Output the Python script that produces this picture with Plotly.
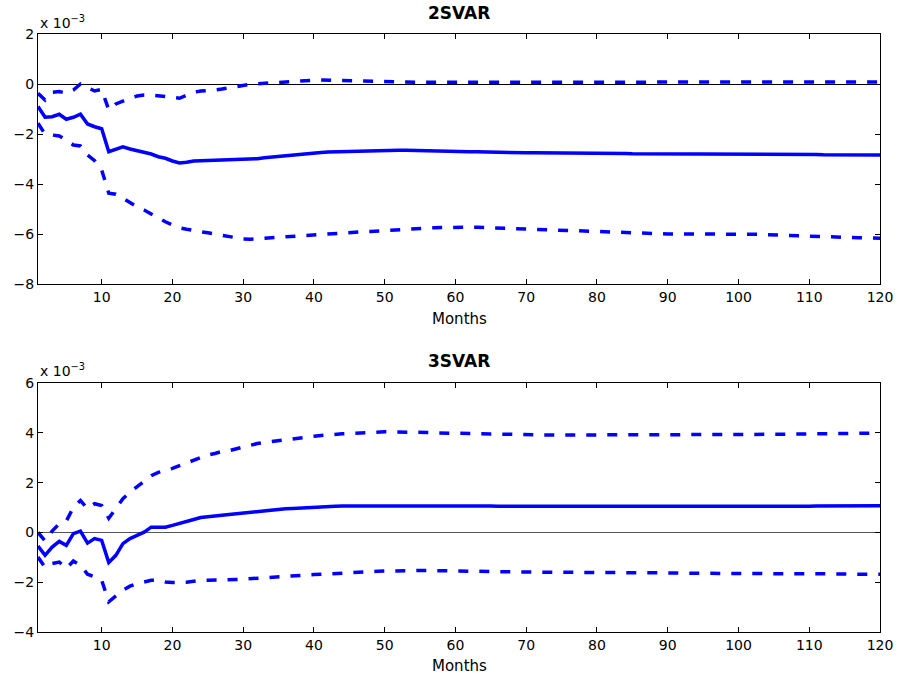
import plotly.graph_objects as go

months = list(range(1, 121))

# ---- 2SVAR (values in units of 1e-3) ----
svar2_mid = [
    -0.90, -1.33, -1.31, -1.21, -1.41, -1.33, -1.21, -1.60, -1.71, -1.79,
    -2.71, -2.60, -2.51, -2.60, -2.67, -2.71, -2.80, -2.91, -2.97, -3.08,
    -3.16, -3.13, -3.08, -3.07, -3.06, -3.05, -3.05, -3.05, -3.05, -3.04,
    -3.02, -2.99, -2.95, -2.92, -2.89, -2.86, -2.83, -2.81, -2.78, -2.76,
    -2.74, -2.72, -2.71, -2.70, -2.69, -2.68, -2.67, -2.67, -2.66, -2.66,
    -2.65, -2.65, -2.65, -2.66, -2.66, -2.67, -2.67, -2.68, -2.69, -2.70,
    -2.70, -2.71, -2.71, -2.72, -2.72, -2.73, -2.73, -2.74, -2.74, -2.75,
    -2.75, -2.75, -2.76, -2.76, -2.76, -2.77, -2.77, -2.77, -2.77, -2.78,
    -2.78, -2.78, -2.78, -2.78, -2.79, -2.79, -2.79, -2.79, -2.79, -2.79,
    -2.80, -2.80, -2.80, -2.80, -2.80, -2.80, -2.80, -2.80, -2.80, -2.80,
    -2.80, -2.81, -2.81, -2.81, -2.81, -2.81, -2.82, -2.82, -2.82, -2.82,
    -2.82, -2.83, -2.83, -2.83, -2.83, -2.83, -2.84, -2.84, -2.84, -2.84,
]
svar2_upper = [
    -0.37, -0.64, -0.33, -0.30, -0.37, -0.24, 0.00, -0.13, -0.28, -0.21,
    -1.04, -0.80, -0.67, -0.57, -0.48, -0.44, -0.44, -0.47, -0.48, -0.51,
    -0.57, -0.45, -0.33, -0.28, -0.27, -0.24, -0.20, -0.15, -0.10, -0.05,
    -0.01, 0.01, 0.03, 0.06, 0.08, 0.10, 0.12, 0.13, 0.14, 0.15,
    0.16, 0.16, 0.16, 0.15, 0.14, 0.13, 0.12, 0.11, 0.10, 0.09,
    0.09, 0.08, 0.08, 0.08, 0.07, 0.07, 0.07, 0.07, 0.08, 0.08,
    0.08, 0.08, 0.09, 0.09, 0.10, 0.10, 0.10, 0.10, 0.10, 0.10,
    0.10, 0.10, 0.10, 0.10, 0.10, 0.10, 0.09, 0.09, 0.09, 0.09,
    0.09, 0.09, 0.09, 0.09, 0.09, 0.08, 0.08, 0.08, 0.08, 0.08,
    0.08, 0.08, 0.08, 0.08, 0.08, 0.08, 0.08, 0.08, 0.08, 0.08,
    0.08, 0.08, 0.08, 0.08, 0.08, 0.08, 0.08, 0.08, 0.08, 0.08,
    0.08, 0.08, 0.08, 0.08, 0.08, 0.08, 0.08, 0.08, 0.08, 0.08,
]
svar2_lower = [
    -1.57, -2.01, -2.04, -2.08, -2.24, -2.44, -2.48, -2.84, -3.07, -3.44,
    -4.37, -4.41, -4.57, -4.75, -4.91, -5.04, -5.20, -5.37, -5.51, -5.64,
    -5.75, -5.81, -5.87, -5.91, -5.95, -6.00, -6.07, -6.13, -6.17, -6.20,
    -6.21, -6.20, -6.19, -6.15, -6.13, -6.11, -6.09, -6.07, -6.05, -6.02,
    -6.00, -5.98, -5.96, -5.95, -5.94, -5.93, -5.91, -5.90, -5.88, -5.87,
    -5.85, -5.83, -5.81, -5.79, -5.78, -5.76, -5.75, -5.74, -5.73, -5.73,
    -5.73, -5.73, -5.73, -5.74, -5.75, -5.77, -5.78, -5.79, -5.81, -5.82,
    -5.84, -5.85, -5.86, -5.87, -5.87, -5.88, -5.89, -5.90, -5.91, -5.91,
    -5.92, -5.92, -5.93, -5.94, -5.96, -5.97, -5.98, -5.99, -5.99, -6.00,
    -6.00, -6.00, -6.00, -6.00, -6.00, -6.00, -5.99, -5.99, -5.99, -5.99,
    -5.99, -6.00, -6.01, -6.03, -6.04, -6.05, -6.07, -6.08, -6.09, -6.11,
    -6.11, -6.12, -6.12, -6.12, -6.13, -6.14, -6.15, -6.15, -6.16, -6.17,
]

# ---- 3SVAR (values in units of 1e-3) ----
svar3_mid = [
    -0.55, -0.92, -0.59, -0.36, -0.52, -0.05, 0.05, -0.43, -0.25, -0.32,
    -1.21, -0.92, -0.45, -0.25, -0.12, 0.01, 0.21, 0.21, 0.21, 0.28,
    0.37, 0.44, 0.52, 0.60, 0.64, 0.67, 0.69, 0.72, 0.75, 0.77,
    0.81, 0.85, 0.88, 0.91, 0.93, 0.95, 0.96, 0.98, 0.99, 1.01,
    1.02, 1.04, 1.05, 1.06, 1.06, 1.07, 1.07, 1.08, 1.08, 1.09,
    1.09, 1.09, 1.09, 1.09, 1.09, 1.08, 1.08, 1.08, 1.08, 1.07,
    1.07, 1.07, 1.06, 1.06, 1.06, 1.05, 1.05, 1.04, 1.04, 1.04,
    1.03, 1.03, 1.03, 1.03, 1.03, 1.02, 1.02, 1.02, 1.02, 1.02,
    1.02, 1.02, 1.02, 1.02, 1.02, 1.02, 1.02, 1.03, 1.03, 1.03,
    1.03, 1.03, 1.03, 1.03, 1.03, 1.03, 1.03, 1.03, 1.03, 1.03,
    1.04, 1.04, 1.04, 1.04, 1.04, 1.05, 1.05, 1.05, 1.05, 1.05,
    1.06, 1.06, 1.06, 1.06, 1.06, 1.06, 1.07, 1.07, 1.07, 1.07,
]
svar3_upper = [
    0.00, -0.34, 0.05, 0.35, 0.45, 1.01, 1.28, 0.95, 1.15, 1.08,
    0.57, 0.95, 1.35, 1.61, 1.84, 2.08, 2.28, 2.41, 2.48, 2.57,
    2.68, 2.79, 2.88, 3.01, 3.11, 3.17, 3.25, 3.28, 3.35, 3.44,
    3.52, 3.57, 3.61, 3.65, 3.68, 3.71, 3.75, 3.79, 3.83, 3.86,
    3.89, 3.92, 3.94, 3.96, 3.97, 3.99, 4.00, 4.01, 4.03, 4.04,
    4.04, 4.04, 4.03, 4.03, 4.02, 4.01, 4.00, 3.99, 3.98, 3.97,
    3.97, 3.97, 3.96, 3.96, 3.95, 3.95, 3.94, 3.93, 3.92, 3.92,
    3.91, 3.91, 3.91, 3.91, 3.91, 3.91, 3.91, 3.91, 3.91, 3.91,
    3.91, 3.91, 3.91, 3.91, 3.91, 3.91, 3.91, 3.91, 3.92, 3.92,
    3.92, 3.92, 3.92, 3.92, 3.92, 3.92, 3.92, 3.93, 3.93, 3.93,
    3.93, 3.93, 3.93, 3.94, 3.94, 3.94, 3.94, 3.95, 3.95, 3.95,
    3.96, 3.96, 3.96, 3.97, 3.97, 3.97, 3.98, 3.98, 3.99, 4.00,
]
svar3_lower = [
    -0.99, -1.41, -1.25, -1.19, -1.45, -1.15, -1.32, -1.68, -1.79, -1.92,
    -2.79, -2.56, -2.32, -2.16, -2.05, -1.99, -1.92, -1.92, -1.99, -2.01,
    -2.01, -2.00, -1.96, -1.92, -1.92, -1.92, -1.91, -1.90, -1.89, -1.88,
    -1.86, -1.83, -1.80, -1.78, -1.77, -1.75, -1.73, -1.72, -1.70, -1.69,
    -1.68, -1.67, -1.65, -1.64, -1.63, -1.61, -1.60, -1.58, -1.56, -1.55,
    -1.54, -1.53, -1.52, -1.52, -1.53, -1.53, -1.54, -1.54, -1.55, -1.55,
    -1.56, -1.56, -1.56, -1.57, -1.57, -1.58, -1.58, -1.59, -1.59, -1.59,
    -1.60, -1.60, -1.60, -1.60, -1.60, -1.60, -1.60, -1.60, -1.60, -1.61,
    -1.61, -1.61, -1.61, -1.62, -1.62, -1.62, -1.63, -1.63, -1.63, -1.63,
    -1.63, -1.64, -1.64, -1.64, -1.64, -1.64, -1.64, -1.64, -1.64, -1.64,
    -1.65, -1.65, -1.65, -1.65, -1.65, -1.65, -1.65, -1.66, -1.66, -1.66,
    -1.66, -1.66, -1.67, -1.67, -1.67, -1.67, -1.68, -1.68, -1.68, -1.68,
]

x_ticks = [10, 20, 30, 40, 50, 60, 70, 80, 90, 100, 110, 120]
y_ticks_top = [-8, -6, -4, -2, 0, 2]
y_ticks_bottom = [-4, -2, 0, 2, 4, 6]
titles = ["2SVAR", "3SVAR"]
x_title = "Months"
scale_label = "x 10<sup>\u22123</sup>"

BLUE = "#0000FF"
FONT = "DejaVu Sans"
DASH = "10px,11px"

fig = go.Figure()

panels = [
    ("x", "y", svar2_mid, svar2_upper, svar2_lower),
    ("x2", "y2", svar3_mid, svar3_upper, svar3_lower),
]
for xa, ya, mid, up, lo in panels:
    fig.add_trace(go.Scatter(x=months, y=up, mode="lines", xaxis=xa, yaxis=ya,
                             line=dict(color=BLUE, width=3.5, dash=DASH), showlegend=False))
    fig.add_trace(go.Scatter(x=months, y=lo, mode="lines", xaxis=xa, yaxis=ya,
                             line=dict(color=BLUE, width=3.5, dash=DASH), showlegend=False))
    fig.add_trace(go.Scatter(x=months, y=mid, mode="lines", xaxis=xa, yaxis=ya,
                             line=dict(color=BLUE, width=3.5), showlegend=False))

axis_common = dict(
    showline=True, linecolor="black", linewidth=1, mirror="ticks",
    ticks="inside", ticklen=5, tickcolor="black", tickwidth=1,
    showgrid=False, automargin=False,
    tickfont=dict(family=FONT, size=14, color="black"),
)

top_dom = [1 - 250 / 598, 1]
bot_dom = [0, 1 - 349 / 598]

fig.update_layout(
    width=897, height=679, autosize=False,
    margin=dict(l=38, r=17, t=34, b=47),
    paper_bgcolor="white", plot_bgcolor="white",
    font=dict(family=FONT, size=14, color="black"),
    xaxis=dict(axis_common, domain=[0, 1], anchor="y", range=[1, 120], tickvals=x_ticks,
               zeroline=False),
    yaxis=dict(axis_common, domain=top_dom, anchor="x", range=[-8, 2], tickvals=y_ticks_top,
               zeroline=True, zerolinecolor="black", zerolinewidth=1),
    xaxis2=dict(axis_common, domain=[0, 1], anchor="y2", range=[1, 120], tickvals=x_ticks,
                zeroline=False),
    yaxis2=dict(axis_common, domain=bot_dom, anchor="x2", range=[-4, 6], tickvals=y_ticks_bottom,
                zeroline=True, zerolinecolor="#555555", zerolinewidth=1),
)

def py(pix):
    return (632 - pix) / 598

for text, ypix in [(titles[0], 13), (titles[1], 361)]:
    fig.add_annotation(text="<b>%s</b>" % text, xref="paper", yref="paper", x=0.5, y=py(ypix),
                       showarrow=False, font=dict(family=FONT, size=17, color="black"),
                       xanchor="center", yanchor="middle")
for ypix in [319, 666]:
    fig.add_annotation(text=x_title, xref="paper", yref="paper", x=0.5, y=py(ypix),
                       showarrow=False, font=dict(family=FONT, size=15, color="black"),
                       xanchor="center", yanchor="middle")
for ypix in [22, 370]:
    fig.add_annotation(text=scale_label, xref="paper", yref="paper", x=0, y=py(ypix),
                       showarrow=False, font=dict(family=FONT, size=14, color="black"),
                       xanchor="left", yanchor="middle")

fig.write_html(
    "out.html",
    config={"displayModeBar": False, "responsive": False},
    post_script="document.body.style.margin='0';document.body.style.overflow='hidden';",
)
